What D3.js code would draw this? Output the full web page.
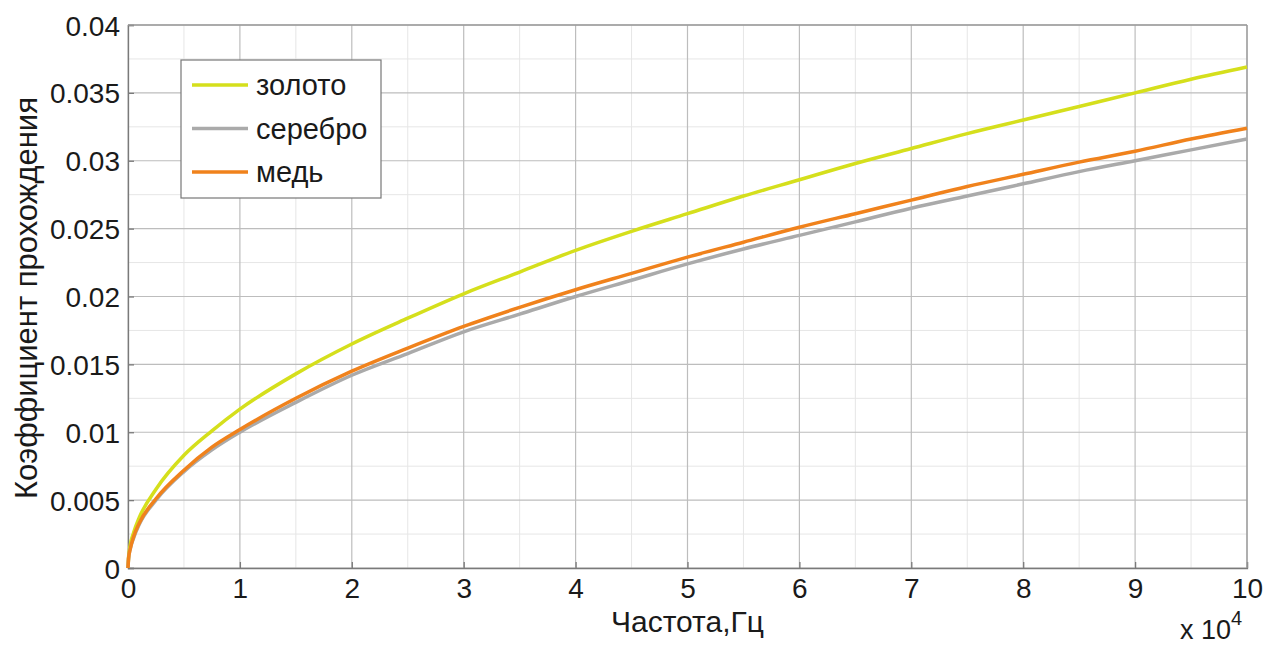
<!DOCTYPE html>
<html>
<head>
<meta charset="utf-8">
<script src="https://cdn.jsdelivr.net/npm/d3@7"></script>
<style>
  html, body { margin: 0; padding: 0; background: #fff; }
  svg { display: block; font-family: "Liberation Sans", Arial, sans-serif; }
</style>
</head>
<body>
<svg id="chart" width="1267" height="646"></svg>
<script>
// Frequency samples, in units of 10^4 Hz
const freq = [0, 0.005, 0.02, 0.05, 0.1, 0.25, 0.5, 0.75, 1, 1.5, 2, 2.5, 3, 3.5, 4, 4.5, 5, 5.5, 6, 6.5, 7, 7.5, 8, 8.5, 9, 9.5, 10];

// Transmission coefficient for each metal
const gold   = [0, 0.0008, 0.0017, 0.0026, 0.0037, 0.0058, 0.0083, 0.0101, 0.0117, 0.0143, 0.0165, 0.0184, 0.0202, 0.0218, 0.0234, 0.0248, 0.0261, 0.0274, 0.0286, 0.0298, 0.0309, 0.0320, 0.0330, 0.0340, 0.0350, 0.0360, 0.0369];
const silver = [0, 0.0007, 0.0014, 0.0022, 0.0032, 0.0050, 0.0071, 0.0087, 0.0100, 0.0122, 0.0142, 0.0158, 0.0174, 0.0187, 0.0200, 0.0212, 0.0224, 0.0235, 0.0245, 0.0255, 0.0265, 0.0274, 0.0283, 0.0292, 0.0300, 0.0308, 0.0316];
const copper = [0, 0.0007, 0.0014, 0.0023, 0.0033, 0.0051, 0.0072, 0.0089, 0.0102, 0.0125, 0.0145, 0.0162, 0.0178, 0.0192, 0.0205, 0.0217, 0.0229, 0.0240, 0.0251, 0.0261, 0.0271, 0.0281, 0.0290, 0.0299, 0.0307, 0.0316, 0.0324];

const seriesNames  = ["золото", "серебро", "медь"];
const seriesColors = ["#d5df1c", "#aaaaaa", "#f0821c"];

const xTicks = [0, 1, 2, 3, 4, 5, 6, 7, 8, 9, 10];
const yTicks = [0, 0.005, 0.01, 0.015, 0.02, 0.025, 0.03, 0.035, 0.04];
const xMinor = d3.range(0.5, 10, 1);
const yMinor = d3.range(0.0025, 0.04, 0.005);

const svg = d3.select("#chart");
const m = { left: 128, right: 20, top: 25, bottom: 78 };
const W = 1267, H = 646;
const FONT = "'Liberation Sans', Arial, sans-serif";

const x = d3.scaleLinear().domain([0, 10]).range([m.left, W - m.right]);
const y = d3.scaleLinear().domain([0, 0.04]).range([H - m.bottom, m.top]);

// grid: minor first, then major
const grid = svg.append("g");
grid.selectAll(".xm").data(xMinor).join("line")
  .attr("x1", d => x(d)).attr("x2", d => x(d))
  .attr("y1", y(0)).attr("y2", y(0.04))
  .attr("stroke", "#e6e6e6").attr("stroke-width", 1);
grid.selectAll(".ym").data(yMinor).join("line")
  .attr("x1", x(0)).attr("x2", x(10))
  .attr("y1", d => y(d)).attr("y2", d => y(d))
  .attr("stroke", "#e6e6e6").attr("stroke-width", 1);
grid.selectAll(".xM").data(xTicks).join("line")
  .attr("x1", d => x(d)).attr("x2", d => x(d))
  .attr("y1", y(0)).attr("y2", y(0.04))
  .attr("stroke", "#bdbdbd").attr("stroke-width", 1.2);
grid.selectAll(".yM").data(yTicks).join("line")
  .attr("x1", x(0)).attr("x2", x(10))
  .attr("y1", d => y(d)).attr("y2", d => y(d))
  .attr("stroke", "#bdbdbd").attr("stroke-width", 1.2);

// axes
const xAxis = d3.axisBottom(x).tickValues(xTicks).tickSize(-6).tickPadding(10).tickFormat(d3.format("d"));
const yAxis = d3.axisLeft(y).tickValues(yTicks).tickSize(-6).tickPadding(8).tickFormat(d => d === 0 ? "0" : d3.format("")(+d.toFixed(3)));

const gx = svg.append("g").attr("transform", `translate(0,${y(0)})`).call(xAxis);
const gy = svg.append("g").attr("transform", `translate(${x(0)},0)`).call(yAxis);
[gx, gy].forEach(g => {
  g.select(".domain").attr("stroke", "#7a7a7a").attr("stroke-width", 1.3);
  g.selectAll(".tick line").attr("stroke", "#7a7a7a").attr("stroke-width", 1.3);
  g.selectAll(".tick text").attr("fill", "#1a1a1a").attr("font-size", 28).attr("font-family", FONT);
});
gx.selectAll(".tick text").attr("dy", "0.71em");
gy.selectAll(".tick text").attr("dy", "0.36em");

// box top and right
svg.append("line").attr("x1", x(0)).attr("x2", x(10)).attr("y1", y(0.04)).attr("y2", y(0.04))
  .attr("stroke", "#9a9a9a").attr("stroke-width", 1.3);
svg.append("line").attr("x1", x(10)).attr("x2", x(10)).attr("y1", y(0)).attr("y2", y(0.04))
  .attr("stroke", "#9a9a9a").attr("stroke-width", 1.3);

// curves
const data = [gold, silver, copper];
const line = d3.line().x((d, i) => x(freq[i])).y(d => y(d)).curve(d3.curveMonotoneX);
svg.append("g").selectAll("path").data(data).join("path")
  .attr("d", d => line(d))
  .attr("fill", "none")
  .attr("stroke", (d, i) => seriesColors[i])
  .attr("stroke-width", 3.5)
  .attr("stroke-linejoin", "round");

// axis titles
svg.append("text").attr("x", x(5)).attr("y", 632).attr("text-anchor", "middle")
  .attr("font-size", 30).attr("fill", "#1a1a1a").text("Частота,Гц");
svg.append("text").attr("transform", `translate(37,298) rotate(-90)`)
  .attr("text-anchor", "middle").attr("font-size", 31).attr("fill", "#1a1a1a")
  .text("Коэффициент прохождения");
const mult = svg.append("text").attr("x", 1180).attr("y", 639).attr("font-size", 27).attr("fill", "#1a1a1a");
mult.append("tspan").text("x 10");
mult.append("tspan").attr("dy", -14).attr("font-size", 20).text("4");

// legend
const lg = svg.append("g").attr("transform", "translate(181,60)");
lg.append("rect").attr("width", 200).attr("height", 138)
  .attr("fill", "#fff").attr("stroke", "#777").attr("stroke-width", 1.2);
const rows = lg.selectAll("g.row").data(seriesNames).join("g")
  .attr("transform", (d, i) => `translate(0,${25 + i * 43.5})`);
rows.append("line").attr("x1", 11).attr("x2", 67).attr("y1", 0).attr("y2", 0)
  .attr("stroke", (d, i) => seriesColors[i]).attr("stroke-width", 3.5);
rows.append("text").attr("x", 75).attr("dy", "0.35em").attr("font-size", 29)
  .attr("fill", "#1a1a1a").text(d => d);
</script>
</body>
</html>
